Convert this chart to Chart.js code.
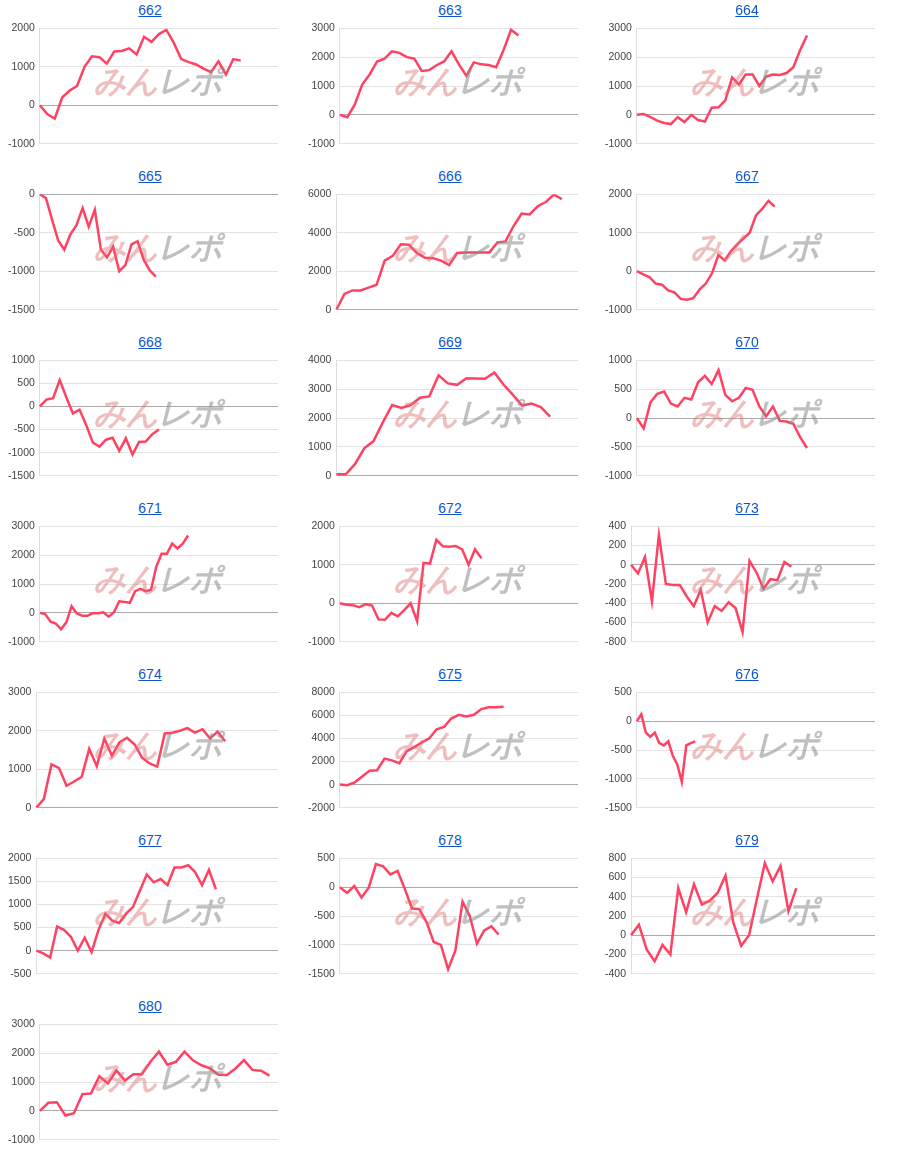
<!DOCTYPE html>
<html><head><meta charset="utf-8">
<script src="https://cdn.jsdelivr.net/npm/chart.js@4"></script>
<style>
body{margin:0;background:#fff;font-family:"Liberation Sans",Arial,sans-serif;}
.cell{position:absolute;width:300px;height:166px;}
.title{position:absolute;top:2px;left:0;width:100%;text-align:center;font-size:14px;}
.title a{color:#1155cc;text-decoration:underline;}
.box{position:absolute;top:17px;left:0;width:300px;height:138px;}
.wm{position:absolute;top:60px;left:94px;font-size:32px;font-weight:bold;font-style:italic;letter-spacing:-1px;white-space:nowrap;pointer-events:none;}
.wm .a{color:rgba(220,110,110,0.45);} .wm .b{color:rgba(140,140,140,0.55);}
</style></head><body>
<script>
const titles=["662","663","664","665","666","667","668","669","670","671","672","673","674","675","676","677","678","679","680"];
const s662=[0,-230,-350,200,380,500,1000,1270,1250,1080,1400,1410,1480,1320,1780,1650,1850,1960,1620,1200,1120,1060,950,860,1140,800,1200,1160];
const s663=[0,-80,350,1050,1400,1850,1950,2200,2150,2000,1950,1520,1550,1720,1850,2200,1750,1350,1820,1750,1730,1650,2250,2950,2750];
const s664=[0,30,-80,-200,-280,-320,-80,-250,0,-180,-230,250,260,500,1300,1050,1400,1400,1000,1330,1400,1380,1450,1650,2250,2750];
const s665=[0,-50,-330,-600,-720,-520,-400,-180,-420,-200,-720,-820,-680,-1000,-920,-650,-610,-850,-990,-1070];
const s666=[0,820,1000,1000,1150,1300,2550,2800,3400,3380,2950,2700,2680,2550,2320,2950,2980,2980,2980,2980,3500,3550,4350,5000,4950,5380,5600,5980,5750];
const s667=[0,-80,-150,-320,-350,-500,-550,-720,-740,-700,-480,-320,-50,420,280,520,700,850,1000,1450,1620,1830,1680];
const s668=[0,150,180,570,200,-150,-70,-400,-780,-870,-720,-680,-960,-690,-1040,-770,-760,-600,-500];
const s669=[50,50,400,950,1200,1850,2450,2350,2450,2700,2750,3480,3200,3150,3380,3370,3360,3580,3150,2800,2430,2500,2380,2050];
const s670=[0,-180,270,420,460,250,200,350,320,620,730,590,830,400,290,350,520,490,200,30,200,-50,-60,-100,-330,-520];
const s671=[0,-40,-300,-370,-570,-330,230,-20,-100,-100,-10,-10,20,-130,20,400,380,350,750,830,750,800,1600,2050,2050,2400,2230,2400,2680];
const s672=[0,-40,-50,-100,-30,-60,-420,-430,-250,-340,-180,0,-470,1050,1030,1650,1480,1470,1490,1400,1000,1400,1170];
const s673=[0,-90,80,-380,310,-200,-210,-210,-330,-430,-260,-600,-430,-480,-390,-450,-700,40,-80,-250,-150,-160,30,-20];
const s674=[0,230,1130,1030,570,680,800,1530,1080,1800,1350,1700,1820,1650,1300,1150,1070,1930,1950,2000,2070,1950,2040,1800,1980,1730];
const s675=[0,-50,200,700,1200,1250,2250,2100,1850,2900,3250,3650,4000,4800,5000,5750,6050,5900,6050,6550,6700,6700,6750];
const s676=[0,120,-200,-270,-200,-380,-420,-350,-600,-750,-1050,-420,-380,-350];
const s677=[0,-60,-150,520,450,300,0,280,-30,450,800,650,600,800,950,1300,1650,1480,1550,1420,1800,1800,1850,1700,1420,1750,1330];
const s678=[0,-100,20,-180,-10,400,360,220,280,-30,-370,-380,-600,-950,-1000,-1420,-1100,-250,-500,-980,-750,-680,-820];
const s679=[0,110,-150,-270,-100,-200,490,240,530,320,360,440,620,130,-110,0,380,750,560,720,250,490];
const s680=[0,280,300,-160,-80,580,600,1200,950,1400,1050,1270,1270,1700,2050,1600,1700,2050,1750,1580,1470,1250,1240,1470,1760,1420,1390,1220];
const series=[s662,s663,s664,s665,s666,s667,s668,s669,s670,s671,s672,s673,s674,s675,s676,s677,s678,s679,s680];
const slotCounts=[33,33,36,40,31,39,37,27,36,46,38,36,33,33,54,36,34,32,29];
const yMin=[-1000,-1000,-1000,-1500,0,-1000,-1500,0,-1000,-1000,-1000,-800,0,-2000,-1500,-500,-1500,-400,-1000];
const yMax=[2000,3000,3000,0,6000,2000,1000,4000,1000,3000,2000,400,3000,8000,500,2000,500,800,3000];
const ySteps=[1000,1000,1000,500,2000,1000,500,1000,500,1000,1000,200,1000,2000,500,500,500,200,1000];
const colLeft=[0,300,597], rowTop=166;

titles.forEach((t,i)=>{
  const c=document.createElement('div');c.className='cell';
  c.style.left=colLeft[i%3]+'px';c.style.top=(Math.floor(i/3)*rowTop)+'px';
  c.innerHTML='<div class="title"><a href="#">'+t+'</a></div><div class="box"><canvas></canvas></div><div class="wm"><span class="a">みん</span><span class="b">レポ</span></div>';
  document.body.appendChild(c);
  const labels=Array.from({length:slotCounts[i]},(_,k)=>String(k+1));
  new Chart(c.querySelector('canvas'),{type:'line',
    data:{labels,datasets:[{data:series[i],borderColor:'#ff4262',borderWidth:2.5,pointRadius:0,tension:0,fill:false}]},
    options:{responsive:true,maintainAspectRatio:false,animation:false,
      layout:{padding:{top:5,right:22,bottom:0,left:3}},
      plugins:{legend:{display:false},tooltip:{enabled:false}},
      scales:{
        x:{offset:false,ticks:{display:false},grid:{display:false},border:{display:false}},
        y:{min:yMin[i],max:yMax[i],ticks:{stepSize:ySteps[i],padding:5,color:'#444',font:{size:10.5,family:'Liberation Sans'},callback:v=>String(v)},
           grid:{color:ctx=>ctx.tick&&ctx.tick.value===0?'#aaaaaa':'#e3e3e3',drawTicks:false},
           border:{display:true,color:'#dddddd'}}
      }}});
});
</script>
</body></html>
